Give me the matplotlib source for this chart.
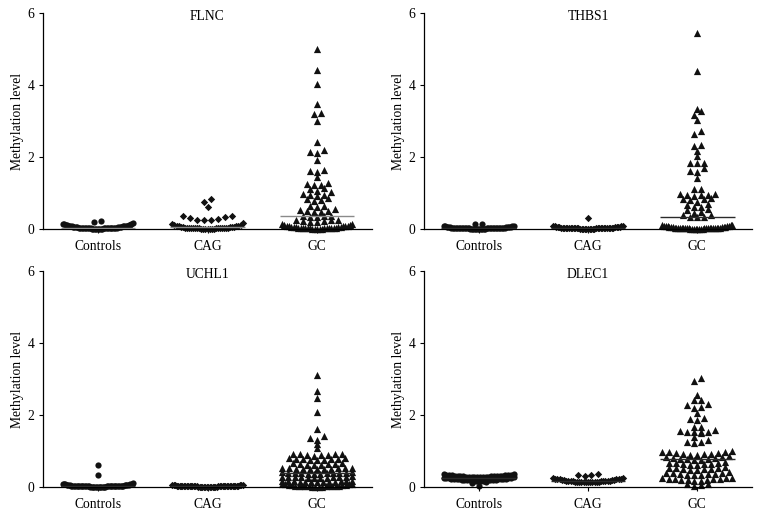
import numpy as np
import matplotlib
matplotlib.use("Agg")
import matplotlib.pyplot as plt

plt.rcParams['font.family'] = ['Liberation Serif', 'DejaVu Serif']

groups = ['Controls', 'CAG', 'GC']
genes = ['FLNC', 'THBS1', 'UCHL1', 'DLEC1']
y_ticks = [0, 2, 4, 6]

flnc_controls = [0.01, 0.01, 0.01, 0.01, 0.01, 0.01, 0.01, 0.01, 0.02, 0.02, 0.02, 0.02, 0.02, 0.02, 0.02, 0.02,
                 0.03, 0.03, 0.03, 0.03, 0.03, 0.03, 0.04, 0.04, 0.04, 0.04, 0.04, 0.05, 0.05, 0.05, 0.05, 0.06,
                 0.06, 0.06, 0.07, 0.07, 0.07, 0.08, 0.08, 0.09, 0.09, 0.10, 0.10, 0.11, 0.12, 0.13, 0.14, 0.15,
                 0.16, 0.20, 0.21]
flnc_cag = [0.01, 0.01, 0.01, 0.01, 0.01, 0.01, 0.01, 0.02, 0.02, 0.02, 0.02, 0.02, 0.02, 0.03, 0.03, 0.03, 0.03,
            0.03, 0.04, 0.04, 0.04, 0.04, 0.05, 0.05, 0.05, 0.06, 0.06, 0.07, 0.07, 0.08, 0.09, 0.10, 0.12, 0.14,
            0.16, 0.25, 0.25, 0.26, 0.29, 0.30, 0.32, 0.35, 0.36, 0.62, 0.75, 0.83]
flnc_gc = [0.01, 0.01, 0.01, 0.01, 0.01, 0.02, 0.02, 0.02, 0.02, 0.02, 0.03, 0.03, 0.03, 0.03, 0.04, 0.04, 0.04,
           0.05, 0.05, 0.05, 0.06, 0.06, 0.07, 0.07, 0.08, 0.08, 0.09, 0.10, 0.12, 0.14, 0.15, 0.19, 0.20, 0.21,
           0.23, 0.24, 0.25, 0.26, 0.33, 0.34, 0.35, 0.36, 0.37, 0.47, 0.48, 0.49, 0.50, 0.53, 0.55, 0.62, 0.64,
           0.65, 0.78, 0.80, 0.83, 0.85, 0.93, 0.94, 0.95, 0.96, 1.03, 1.06, 1.11, 1.13, 1.22, 1.23, 1.24, 1.29,
           1.44, 1.58, 1.60, 1.64, 1.92, 2.11, 2.13, 2.19, 2.42, 3.01, 3.20, 3.22, 3.47, 4.03, 4.41, 5.00]

thbs1_controls = [0.01, 0.01, 0.01, 0.01, 0.01, 0.01, 0.01, 0.01, 0.01, 0.01, 0.01, 0.02, 0.02, 0.02, 0.02, 0.02,
                  0.02, 0.02, 0.02, 0.02, 0.02, 0.02, 0.03, 0.03, 0.03, 0.03, 0.03, 0.03, 0.03, 0.03, 0.03, 0.04,
                  0.04, 0.04, 0.04, 0.04, 0.04, 0.05, 0.05, 0.05, 0.05, 0.06, 0.06, 0.06, 0.07, 0.07, 0.08, 0.09,
                  0.14, 0.15]
thbs1_cag = [0.01, 0.01, 0.01, 0.01, 0.01, 0.01, 0.01, 0.01, 0.01, 0.01, 0.02, 0.02, 0.02, 0.02, 0.02, 0.02, 0.02,
             0.02, 0.02, 0.02, 0.03, 0.03, 0.03, 0.03, 0.03, 0.03, 0.03, 0.03, 0.04, 0.04, 0.04, 0.04, 0.04, 0.04,
             0.05, 0.05, 0.05, 0.05, 0.06, 0.06, 0.06, 0.07, 0.07, 0.08, 0.09, 0.30]
thbs1_gc = [0.01, 0.01, 0.01, 0.01, 0.01, 0.01, 0.01, 0.01, 0.02, 0.02, 0.02, 0.02, 0.02, 0.02, 0.02, 0.02, 0.03,
            0.03, 0.03, 0.03, 0.03, 0.03, 0.04, 0.04, 0.04, 0.04, 0.04, 0.05, 0.05, 0.05, 0.06, 0.06, 0.06, 0.07,
            0.07, 0.08, 0.08, 0.09, 0.10, 0.11, 0.12, 0.32, 0.32, 0.34, 0.38, 0.38, 0.44, 0.46, 0.52, 0.55, 0.60,
            0.62, 0.66, 0.70, 0.75, 0.80, 0.82, 0.83, 0.86, 0.93, 0.94, 0.95, 0.95, 0.96, 0.97, 1.10, 1.11, 1.43,
            1.59, 1.61, 1.69, 1.83, 1.84, 1.84, 2.03, 2.16, 2.31, 2.33, 2.63, 2.73, 3.03, 3.17, 3.28, 3.32, 4.39,
            5.44]

uchl1_controls = [0.01, 0.01, 0.01, 0.01, 0.01, 0.01, 0.01, 0.01, 0.01, 0.01, 0.01, 0.01, 0.02, 0.02, 0.02, 0.02,
                  0.02, 0.02, 0.02, 0.02, 0.02, 0.02, 0.02, 0.02, 0.03, 0.03, 0.03, 0.03, 0.03, 0.03, 0.03, 0.03,
                  0.03, 0.04, 0.04, 0.04, 0.04, 0.04, 0.04, 0.05, 0.05, 0.05, 0.05, 0.06, 0.06, 0.06, 0.07, 0.07,
                  0.08, 0.08, 0.09, 0.10, 0.33, 0.61]
uchl1_cag = [0.01, 0.01, 0.01, 0.01, 0.01, 0.01, 0.01, 0.01, 0.01, 0.01, 0.01, 0.01, 0.01, 0.01, 0.02, 0.02, 0.02,
             0.02, 0.02, 0.02, 0.02, 0.02, 0.02, 0.02, 0.02, 0.02, 0.02, 0.02, 0.03, 0.03, 0.03, 0.03, 0.03, 0.03,
             0.03, 0.03, 0.03, 0.03, 0.04, 0.04, 0.04, 0.04, 0.04, 0.04, 0.05, 0.05, 0.05, 0.05, 0.06, 0.06]
uchl1_gc = [0.01, 0.01, 0.01, 0.01, 0.02, 0.02, 0.02, 0.02, 0.03, 0.03, 0.03, 0.04, 0.04, 0.04, 0.05, 0.05, 0.06,
            0.06, 0.07, 0.07, 0.08, 0.08, 0.13, 0.13, 0.14, 0.14, 0.15, 0.15, 0.15, 0.16, 0.16, 0.17, 0.17, 0.18,
            0.18, 0.25, 0.25, 0.26, 0.26, 0.27, 0.27, 0.27, 0.28, 0.28, 0.29, 0.29, 0.30, 0.37, 0.37, 0.37, 0.38,
            0.38, 0.38, 0.39, 0.39, 0.40, 0.40, 0.41, 0.41, 0.49, 0.49, 0.50, 0.50, 0.51, 0.51, 0.52, 0.52, 0.53,
            0.53, 0.54, 0.61, 0.62, 0.62, 0.63, 0.64, 0.65, 0.66, 0.67, 0.74, 0.75, 0.76, 0.77, 0.77, 0.78, 0.79,
            0.80, 0.81, 0.87, 0.88, 0.89, 0.90, 0.91, 0.91, 0.92, 0.93, 1.07, 1.19, 1.31, 1.35, 1.42, 1.61, 2.09,
            2.46, 2.68, 3.12]

dlec1_controls = [0.03, 0.10, 0.13, 0.16, 0.17, 0.17, 0.18, 0.18, 0.18, 0.19, 0.19, 0.19, 0.19, 0.20, 0.20, 0.20,
                  0.20, 0.21, 0.21, 0.21, 0.22, 0.22, 0.22, 0.23, 0.23, 0.24, 0.24, 0.25, 0.25, 0.26, 0.27, 0.28,
                  0.28, 0.28, 0.28, 0.29, 0.29, 0.29, 0.29, 0.29, 0.30, 0.30, 0.30, 0.30, 0.30, 0.31, 0.31, 0.31,
                  0.31, 0.32, 0.32, 0.32, 0.33, 0.33, 0.34, 0.35, 0.36]
dlec1_cag = [0.13, 0.13, 0.13, 0.13, 0.14, 0.14, 0.14, 0.14, 0.15, 0.15, 0.15, 0.15, 0.16, 0.16, 0.16, 0.17, 0.17,
             0.17, 0.18, 0.18, 0.18, 0.19, 0.19, 0.20, 0.20, 0.21, 0.21, 0.22, 0.22, 0.23, 0.23, 0.24, 0.24, 0.31,
             0.32, 0.33, 0.35]
dlec1_gc = [0.04, 0.05, 0.07, 0.08, 0.17, 0.18, 0.19, 0.19, 0.20, 0.21, 0.22, 0.22, 0.23, 0.24, 0.25, 0.26, 0.32,
            0.33, 0.34, 0.35, 0.36, 0.37, 0.38, 0.39, 0.40, 0.41, 0.47, 0.48, 0.49, 0.50, 0.51, 0.52, 0.53, 0.54,
            0.56, 0.61, 0.62, 0.63, 0.64, 0.65, 0.66, 0.67, 0.68, 0.70, 0.75, 0.76, 0.77, 0.78, 0.79, 0.80, 0.81,
            0.82, 0.83, 0.85, 0.89, 0.90, 0.91, 0.92, 0.93, 0.94, 0.95, 0.96, 0.97, 0.98, 0.99, 1.23, 1.24, 1.26,
            1.30, 1.40, 1.51, 1.52, 1.52, 1.53, 1.54, 1.55, 1.58, 1.66, 1.67, 1.87, 1.90, 1.93, 2.05, 2.20, 2.22,
            2.28, 2.30, 2.41, 2.42, 2.56, 2.95, 3.02]

data = {
    'FLNC': [flnc_controls, flnc_cag, flnc_gc],
    'THBS1': [thbs1_controls, thbs1_cag, thbs1_gc],
    'UCHL1': [uchl1_controls, uchl1_cag, uchl1_gc],
    'DLEC1': [dlec1_controls, dlec1_cag, dlec1_gc],
}

markers = ['o', 'D', '^']
msizes = [20, 14, 27]
line_colors = {'FLNC': '#8a8a8a', 'THBS1': '#2a2a2a', 'UCHL1': '#2a2a2a', 'DLEC1': '#2a2a2a'}
first_row_height = {'FLNC': 0.17, 'THBS1': 0.11, 'UCHL1': 0.11, 'DLEC1': 0.11}


def swarm(values, bh=0.11, bh0=0.11, step=0.064, half=0.32):
    v = np.sort(np.asarray(values, dtype=float))
    xs = np.zeros_like(v)
    rows, cur, start = [], [], None
    for i, val in enumerate(v):
        lim = bh0 if not rows else bh
        if start is None or val > start + lim + 1e-9:
            if cur:
                rows.append(cur)
            cur, start = [i], val
        else:
            cur.append(i)
    rows.append(cur)
    for r in rows:
        n = len(r)
        s = step if n == 1 else min(step, 2 * half / (n - 1))
        offs = (np.arange(n) - (n - 1) / 2) * s
        order = sorted(range(n), key=lambda k: (round(abs(offs[k]), 9), offs[k]))
        for rank, k in enumerate(order):
            xs[r[rank]] = offs[k]
    return v, xs


fig = plt.figure(figsize=(7.58, 5.15), dpi=100)
W, H = 758.0, 515.0
boxes = {
    'FLNC': (43, 13, 372, 229),
    'THBS1': (424, 13, 752, 229),
    'UCHL1': (43, 271, 372, 487),
    'DLEC1': (424, 271, 752, 487),
}

for gene in genes:
    x0, y0, x1, y1 = boxes[gene]
    ax = fig.add_axes([x0 / W, 1 - y1 / H, (x1 - x0) / W, (y1 - y0) / H])
    for gi, vals in enumerate(data[gene]):
        v, dx = swarm(vals, bh0=first_row_height[gene])
        ax.scatter(gi + dx, v, marker=markers[gi], s=msizes[gi], color='#111111',
                   linewidths=0, clip_on=False, zorder=2)
        med = np.median(vals)
        ax.hlines(med, gi - 0.34, gi + 0.34, color=line_colors[gene], lw=1.0, zorder=3)
    ax.set_xlim(-0.5, 2.5)
    ax.set_ylim(0, 6)
    ax.set_xticks(range(len(groups)))
    ax.set_xticklabels(groups)
    ax.set_yticks(y_ticks)
    for side in ['top', 'right']:
        ax.spines[side].set_visible(False)
    for side in ['left', 'bottom']:
        ax.spines[side].set_linewidth(0.9)
    ax.tick_params(axis='x', length=3, width=0.8, pad=5, labelsize=9.8)
    ax.tick_params(axis='y', length=3, width=0.8, pad=3, labelsize=9.8)
    ax.set_ylabel('Methylation level', fontsize=9.8)
    ax.yaxis.set_label_coords(-0.058, 0.5)
    ax.text(0.5, 0.985, gene, transform=ax.transAxes, ha='center', va='center', fontsize=9.8)

fig.savefig('out.png', dpi=100)
